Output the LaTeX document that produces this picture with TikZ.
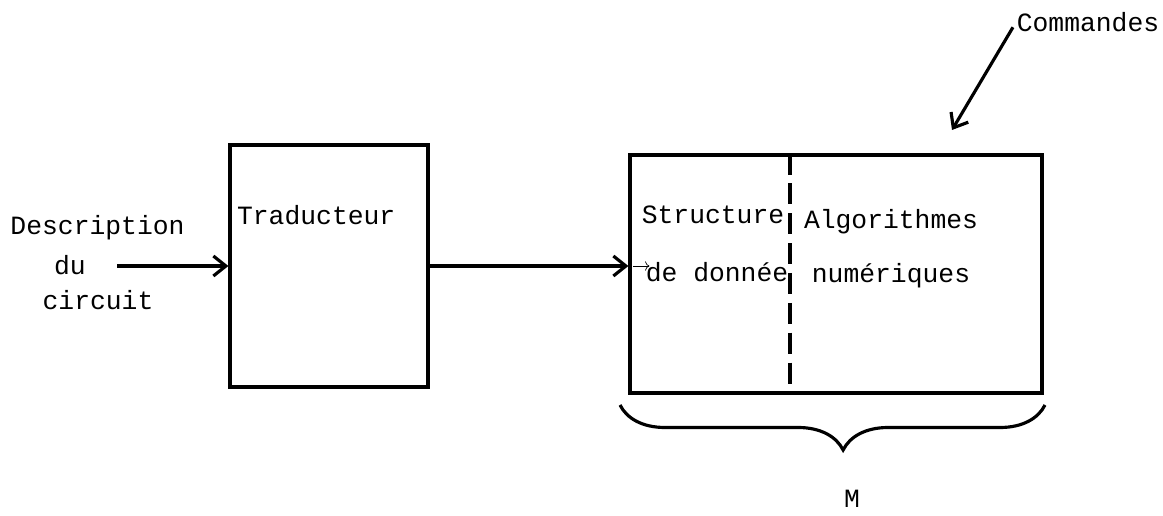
\documentclass[tikz,border=0pt]{standalone}
\usepackage{fontspec}
\setmainfont{Liberation Mono}
\usepackage{tikz}
\usetikzlibrary{arrows.meta, decorations.pathreplacing}

\tikzset{
  bloc/.style={draw, line width=1.8pt, inner sep=0pt},
  fleche/.style={line width=1.8pt, -{Straight Barb[length=2.5mm, width=4mm, line width=1.8pt]}},
  texte/.style={font=\fontsize{15}{20}\selectfont, inner sep=1pt}
}

\begin{document}
\begin{tikzpicture}[scale=1]

\useasboundingbox (0,0) rectangle (23.26,10.3);

% Blocs
\node[bloc, minimum width=3.96cm, minimum height=4.84cm] (trad) at (6.58,4.98) {};
\node[bloc, minimum width=8.24cm, minimum height=4.76cm] (mod) at (16.72,4.82) {};

% Separation en pointilles
\draw[line width=1.8pt, dash pattern=on 12pt off 5pt] (15.8,0 |- mod.north) -- (15.8,0 |- mod.south);

% Etiquettes
\node[texte] (desc) at (1.95,5.74) {Description};
\node[texte] (du) at (1.4,5.0) {du};
\node[texte] (circ) at (1.96,4.3) {circuit};
\node[texte, anchor=west] (tradtxt) at (4.7,6.0) {Traducteur};
\node[texte] (struct) at (14.26,6.0) {Structure};
\node[texte] (donnee) at (14.34,4.86) {de donnée};
\node[texte] (algo) at (17.82,5.86) {Algorithmes};
\node[texte] (num) at (17.82,4.78) {numériques};
\node[texte] (cmd) at (21.76,9.86) {Commandes};
\node[texte] (m) at (17.04,0.32) {M};

% Fleches
\coordinate (entree) at (2.34,4.98);
\coordinate (cible) at (19.04,7.7);
\draw[fleche] (entree) -- (trad.west);
\draw[fleche] (trad.east) -- (trad.east -| mod.west);
\draw[thin, ->] ([xshift=0.1cm]trad.east -| mod.west) -- ++(0.32,0);
\draw[fleche] ([xshift=-1pt, yshift=-3pt]cmd.west) -- (cible);

% Accolade
\draw[line width=1.8pt, decorate, decoration={brace, mirror, amplitude=0.9cm, aspect=0.525}]
  (12.4,2.2) -- (20.9,2.2);

\end{tikzpicture}
\end{document}
